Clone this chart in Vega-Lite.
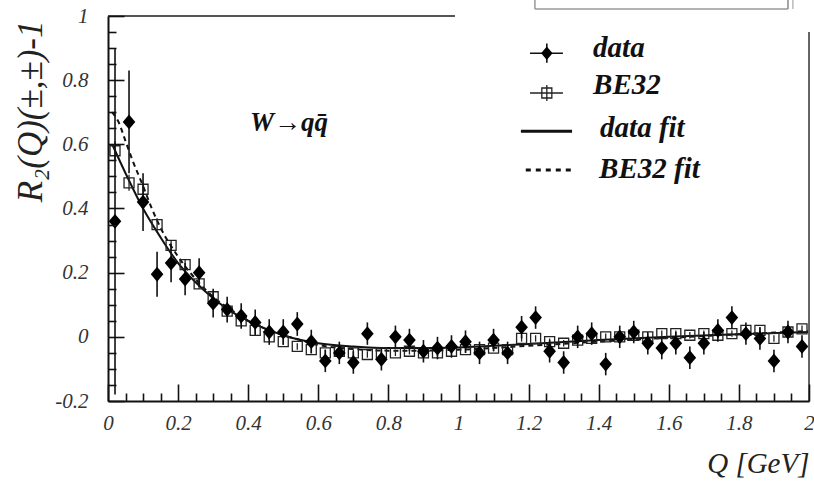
{
  "$schema": "https://vega.github.io/schema/vega-lite/v6.json",
  "width": 701,
  "height": 385,
  "autosize": "none",
  "padding": {"left": 108, "top": 16, "right": 5, "bottom": 82},
  "background": "white",
  "config": {
    "view": {"stroke": null},
    "axis": {
      "grid": false,
      "domainColor": "#111",
      "domainWidth": 2,
      "ticks": true,
      "tickColor": "#111",
      "tickWidth": 1.6,
      "labelFont": "Liberation Serif",
      "labelFontStyle": "italic",
      "labelFontSize": 21,
      "labelColor": "#333",
      "labelFlush": false,
      "labelOverlap": false,
      "titleFont": "Liberation Serif",
      "titleFontStyle": "italic",
      "titleFontWeight": "normal",
      "titleColor": "#222"
    },
    "text": {"font": "Liberation Serif", "fontStyle": "italic", "fontWeight": "bold", "color": "#111"}
  },
  "resolve": {"axis": {"x": "independent", "y": "independent"}},
  "datasets": {
    "data": [
      {"q": 0.02, "r": 0.36, "err": 0.54},
      {"q": 0.06, "r": 0.67, "err": 0.16},
      {"q": 0.10, "r": 0.42, "err": 0.09},
      {"q": 0.14, "r": 0.195, "err": 0.07},
      {"q": 0.18, "r": 0.23, "err": 0.06},
      {"q": 0.22, "r": 0.18, "err": 0.05},
      {"q": 0.26, "r": 0.20, "err": 0.045},
      {"q": 0.30, "r": 0.105, "err": 0.045},
      {"q": 0.34, "r": 0.085, "err": 0.04},
      {"q": 0.38, "r": 0.065, "err": 0.04},
      {"q": 0.42, "r": 0.045, "err": 0.04},
      {"q": 0.46, "r": 0.015, "err": 0.04},
      {"q": 0.50, "r": 0.015, "err": 0.04},
      {"q": 0.54, "r": 0.04, "err": 0.037},
      {"q": 0.58, "r": -0.015, "err": 0.037},
      {"q": 0.62, "r": -0.075, "err": 0.035},
      {"q": 0.66, "r": -0.05, "err": 0.035},
      {"q": 0.70, "r": -0.08, "err": 0.035},
      {"q": 0.74, "r": 0.01, "err": 0.035},
      {"q": 0.78, "r": -0.07, "err": 0.035},
      {"q": 0.82, "r": 0.0, "err": 0.035},
      {"q": 0.86, "r": -0.01, "err": 0.035},
      {"q": 0.90, "r": -0.045, "err": 0.035},
      {"q": 0.94, "r": -0.035, "err": 0.035},
      {"q": 0.98, "r": -0.03, "err": 0.035},
      {"q": 1.02, "r": -0.015, "err": 0.035},
      {"q": 1.06, "r": -0.05, "err": 0.035},
      {"q": 1.10, "r": -0.01, "err": 0.035},
      {"q": 1.14, "r": -0.05, "err": 0.035},
      {"q": 1.18, "r": 0.03, "err": 0.035},
      {"q": 1.22, "r": 0.06, "err": 0.035},
      {"q": 1.26, "r": -0.045, "err": 0.035},
      {"q": 1.30, "r": -0.08, "err": 0.035},
      {"q": 1.34, "r": 0.0, "err": 0.035},
      {"q": 1.38, "r": 0.01, "err": 0.035},
      {"q": 1.42, "r": -0.085, "err": 0.035},
      {"q": 1.46, "r": 0.0, "err": 0.035},
      {"q": 1.50, "r": 0.015, "err": 0.035},
      {"q": 1.54, "r": -0.02, "err": 0.035},
      {"q": 1.58, "r": -0.035, "err": 0.035},
      {"q": 1.62, "r": -0.02, "err": 0.035},
      {"q": 1.66, "r": -0.065, "err": 0.035},
      {"q": 1.70, "r": -0.02, "err": 0.035},
      {"q": 1.74, "r": 0.02, "err": 0.035},
      {"q": 1.78, "r": 0.06, "err": 0.035},
      {"q": 1.82, "r": 0.01, "err": 0.035},
      {"q": 1.86, "r": -0.005, "err": 0.035},
      {"q": 1.90, "r": -0.075, "err": 0.035},
      {"q": 1.94, "r": 0.015, "err": 0.035},
      {"q": 1.98, "r": -0.03, "err": 0.035}
    ],
    "be32": [
      {"q": 0.02, "r": 0.58, "err": 0.03},
      {"q": 0.06, "r": 0.48, "err": 0.025},
      {"q": 0.10, "r": 0.46, "err": 0.02},
      {"q": 0.14, "r": 0.35, "err": 0.02},
      {"q": 0.18, "r": 0.285, "err": 0.015},
      {"q": 0.22, "r": 0.225, "err": 0.015},
      {"q": 0.26, "r": 0.165, "err": 0.015},
      {"q": 0.30, "r": 0.125, "err": 0.012},
      {"q": 0.34, "r": 0.08, "err": 0.012},
      {"q": 0.38, "r": 0.05, "err": 0.01},
      {"q": 0.42, "r": 0.02, "err": 0.01},
      {"q": 0.46, "r": 0.0, "err": 0.01},
      {"q": 0.50, "r": -0.015, "err": 0.01},
      {"q": 0.54, "r": -0.03, "err": 0.01},
      {"q": 0.58, "r": -0.04, "err": 0.01},
      {"q": 0.62, "r": -0.05, "err": 0.01},
      {"q": 0.66, "r": -0.045, "err": 0.01},
      {"q": 0.70, "r": -0.05, "err": 0.01},
      {"q": 0.74, "r": -0.055, "err": 0.01},
      {"q": 0.78, "r": -0.05, "err": 0.01},
      {"q": 0.82, "r": -0.05, "err": 0.01},
      {"q": 0.86, "r": -0.045, "err": 0.01},
      {"q": 0.90, "r": -0.05, "err": 0.01},
      {"q": 0.94, "r": -0.05, "err": 0.01},
      {"q": 0.98, "r": -0.045, "err": 0.01},
      {"q": 1.02, "r": -0.04, "err": 0.01},
      {"q": 1.06, "r": -0.04, "err": 0.01},
      {"q": 1.10, "r": -0.035, "err": 0.01},
      {"q": 1.14, "r": -0.04, "err": 0.01},
      {"q": 1.18, "r": -0.005, "err": 0.01},
      {"q": 1.22, "r": -0.005, "err": 0.01},
      {"q": 1.26, "r": -0.015, "err": 0.01},
      {"q": 1.30, "r": -0.02, "err": 0.01},
      {"q": 1.34, "r": -0.01, "err": 0.01},
      {"q": 1.38, "r": -0.005, "err": 0.01},
      {"q": 1.42, "r": 0.0, "err": 0.01},
      {"q": 1.46, "r": 0.0, "err": 0.01},
      {"q": 1.50, "r": 0.005, "err": 0.01},
      {"q": 1.54, "r": 0.0, "err": 0.01},
      {"q": 1.58, "r": 0.01, "err": 0.01},
      {"q": 1.62, "r": 0.01, "err": 0.01},
      {"q": 1.66, "r": 0.005, "err": 0.01},
      {"q": 1.70, "r": 0.01, "err": 0.01},
      {"q": 1.74, "r": 0.005, "err": 0.01},
      {"q": 1.78, "r": 0.01, "err": 0.01},
      {"q": 1.82, "r": 0.02, "err": 0.01},
      {"q": 1.86, "r": 0.02, "err": 0.01},
      {"q": 1.90, "r": -0.005, "err": 0.01},
      {"q": 1.94, "r": 0.015, "err": 0.01},
      {"q": 1.98, "r": 0.025, "err": 0.01}
    ],
    "datafit": [
      {"q": 0.012, "r": 0.60},
      {"q": 0.05, "r": 0.51},
      {"q": 0.10, "r": 0.40},
      {"q": 0.15, "r": 0.31},
      {"q": 0.20, "r": 0.23},
      {"q": 0.25, "r": 0.17},
      {"q": 0.30, "r": 0.12},
      {"q": 0.35, "r": 0.08},
      {"q": 0.40, "r": 0.05},
      {"q": 0.45, "r": 0.025},
      {"q": 0.50, "r": 0.005},
      {"q": 0.55, "r": -0.01},
      {"q": 0.60, "r": -0.02},
      {"q": 0.70, "r": -0.03},
      {"q": 0.80, "r": -0.035},
      {"q": 0.90, "r": -0.035},
      {"q": 1.00, "r": -0.033},
      {"q": 1.20, "r": -0.022},
      {"q": 1.40, "r": -0.01},
      {"q": 1.60, "r": 0.0},
      {"q": 1.80, "r": 0.008},
      {"q": 2.00, "r": 0.015}
    ],
    "be32fit": [
      {"q": 0.012, "r": 0.70},
      {"q": 0.03, "r": 0.67},
      {"q": 0.05, "r": 0.61},
      {"q": 0.07, "r": 0.55},
      {"q": 0.10, "r": 0.47},
      {"q": 0.125, "r": 0.40},
      {"q": 0.15, "r": 0.34},
      {"q": 0.20, "r": 0.25},
      {"q": 0.25, "r": 0.18},
      {"q": 0.30, "r": 0.125},
      {"q": 0.35, "r": 0.085},
      {"q": 0.40, "r": 0.05},
      {"q": 0.45, "r": 0.025},
      {"q": 0.50, "r": 0.005},
      {"q": 0.55, "r": -0.01},
      {"q": 0.60, "r": -0.025},
      {"q": 0.70, "r": -0.038},
      {"q": 0.80, "r": -0.043},
      {"q": 0.90, "r": -0.043},
      {"q": 1.00, "r": -0.04},
      {"q": 1.20, "r": -0.028},
      {"q": 1.40, "r": -0.015},
      {"q": 1.60, "r": -0.003},
      {"q": 1.80, "r": 0.008},
      {"q": 2.00, "r": 0.018}
    ],
    "one": [{}]
  },
  "layer": [
    {
      "data": {"name": "datafit"},
      "mark": {"type": "line", "color": "#111", "strokeWidth": 2, "interpolate": "monotone"},
      "encoding": {
        "x": {
          "field": "q", "type": "quantitative",
          "scale": {"domain": [0, 2], "nice": false, "zero": false},
          "axis": {
            "orient": "bottom", "offset": -17, "zindex": 1,
            "domain": false,
            "title": "Q [GeV]",
            "titleFontSize": 29,
            "titleX": 701, "titleY": 88,
            "titleAlign": "right", "titleBaseline": "alphabetic",
            "values": [0, 0.2, 0.4, 0.6, 0.8, 1, 1.2, 1.4, 1.6, 1.8, 2],
            "ticks": true, "tickSize": 17, "tickColor": "#111",
            "labelExpr": "'' + round(datum.value*10)/10",
            "labelPadding": 11,
            "labelBaseline": "top"
          }
        },
        "y": {
          "field": "r", "type": "quantitative",
          "scale": {"domain": [-0.2, 1], "nice": false, "zero": false},
          "axis": {
            "orient": "left", "offset": -16, "zindex": 1,
            "domain": false,
            "title": "R₂(Q)(±,±)-1",
            "titleFontSize": 35,
            "titleAngle": -90,
            "titleX": -83, "titleY": 4,
            "titleAlign": "right", "titleBaseline": "alphabetic",
            "values": [-0.2, 0, 0.2, 0.4, 0.6, 0.8, 1],
            "ticks": true, "tickSize": 16, "tickColor": "#111",
            "labelExpr": "'' + round(datum.value*10)/10",
            "labelPadding": 20
          }
        }
      }
    },
    {
      "data": {"name": "be32fit"},
      "mark": {"type": "line", "color": "#111", "strokeWidth": 2, "strokeDash": [5, 4], "interpolate": "monotone"},
      "encoding": {
        "x": {
          "field": "q", "type": "quantitative",
          "axis": {
            "orient": "top", "offset": -385, "zindex": 1, "title": null, "labels": false, "domain": true,
            "values": [0.05,0.1,0.15,0.25,0.3,0.35,0.45,0.5,0.55,0.65,0.7,0.75,0.85,0.9,0.95,1.05,1.1,1.15,1.25,1.3,1.35,1.45,1.5,1.55,1.65,1.7,1.75,1.85,1.9,1.95],
            "ticks": true, "tickSize": 8, "tickColor": "#111"
          }
        },
        "y": {
          "field": "r", "type": "quantitative",
          "axis": {
            "orient": "right", "offset": -701, "zindex": 1, "title": null, "labels": false, "domain": true,
            "values": [-0.15,-0.1,-0.05,0.05,0.1,0.15,0.25,0.3,0.35,0.45,0.5,0.55,0.65,0.7,0.75,0.85,0.9,0.95],
            "ticks": true, "tickSize": 8, "tickColor": "#111"
          }
        }
      }
    },
    {
      "data": {"name": "be32"},
      "mark": {"type": "errorbar", "color": "#222", "thickness": 1.3},
      "encoding": {
        "x": {"field": "q", "type": "quantitative", "axis": null},
        "y": {"field": "r", "type": "quantitative", "axis": null},
        "yError": {"field": "err"}
      }
    },
    {
      "data": {"name": "be32"},
      "mark": {"type": "point", "shape": "square", "size": 100, "filled": false, "stroke": "#222", "strokeWidth": 1.3, "opacity": 1},
      "encoding": {
        "x": {"field": "q", "type": "quantitative", "axis": null},
        "y": {"field": "r", "type": "quantitative", "axis": null}
      }
    },
    {
      "data": {"name": "data"},
      "mark": {"type": "errorbar", "color": "#111", "thickness": 1.6},
      "encoding": {
        "x": {"field": "q", "type": "quantitative", "axis": null},
        "y": {"field": "r", "type": "quantitative", "axis": null},
        "yError": {"field": "err"}
      }
    },
    {
      "data": {"name": "data"},
      "mark": {"type": "point", "shape": "M0,-1L0.85,0L0,1L-0.85,0Z", "size": 220, "filled": true, "color": "#000", "opacity": 1},
      "encoding": {
        "x": {"field": "q", "type": "quantitative", "axis": null},
        "y": {"field": "r", "type": "quantitative", "axis": null}
      }
    },
    {
      "data": {"name": "one"},
      "mark": {"type": "rule", "color": "#555", "strokeWidth": 2},
      "encoding": {"x": {"datum": 0, "axis": null}, "x2": {"datum": 0.99}, "y": {"datum": 1, "axis": null}}
    },
    {
      "data": {"name": "one"},
      "mark": {"type": "rule", "color": "#666", "strokeWidth": 2},
      "encoding": {"x": {"datum": 2, "axis": null}, "y": {"datum": -0.2, "axis": null}, "y2": {"datum": 0.95}}
    },
    {
      "data": {"name": "one"},
      "mark": {"type": "rule", "color": "#999", "strokeWidth": 1.5},
      "encoding": {"x": {"datum": 1.218, "axis": null}, "x2": {"datum": 1.94}, "y": {"datum": 1.022, "axis": null}}
    },
    {
      "data": {"name": "one"},
      "mark": {"type": "rule", "color": "#999", "strokeWidth": 1.5},
      "encoding": {"x": {"datum": 1.218, "axis": null}, "y": {"datum": 1.022, "axis": null}, "y2": {"datum": 1.1}}
    },
    {
      "data": {"name": "one"},
      "mark": {"type": "rule", "color": "#888", "strokeWidth": 1.5},
      "encoding": {"x": {"datum": 1.94, "axis": null}, "y": {"datum": 1.022, "axis": null}, "y2": {"datum": 1.1}}
    },
    {
      "data": {"name": "one"},
      "mark": {"type": "rule", "color": "#aaa", "strokeWidth": 1.2},
      "encoding": {"x": {"datum": 1.954, "axis": null}, "y": {"datum": 1.022, "axis": null}, "y2": {"datum": 1.1}}
    },
    {
      "data": {"name": "one"},
      "mark": {"type": "rule", "color": "#111", "strokeWidth": 1.6},
      "encoding": {"x": {"datum": 1.204, "axis": null}, "x2": {"datum": 1.298}, "y": {"datum": 0.884, "axis": null}}
    },
    {
      "data": {"name": "one"},
      "mark": {"type": "rule", "color": "#111", "strokeWidth": 1.6},
      "encoding": {"x": {"datum": 1.252, "axis": null}, "y": {"datum": 0.854, "axis": null}, "y2": {"datum": 0.914}}
    },
    {
      "data": {"name": "one"},
      "mark": {"type": "point", "shape": "M0,-1L0.85,0L0,1L-0.85,0Z", "size": 180, "filled": true, "color": "#000", "opacity": 1},
      "encoding": {"x": {"datum": 1.252, "axis": null}, "y": {"datum": 0.884, "axis": null}}
    },
    {
      "data": {"name": "one"},
      "mark": {"type": "rule", "color": "#222", "strokeWidth": 1.3},
      "encoding": {"x": {"datum": 1.204, "axis": null}, "x2": {"datum": 1.298}, "y": {"datum": 0.76, "axis": null}}
    },
    {
      "data": {"name": "one"},
      "mark": {"type": "rule", "color": "#222", "strokeWidth": 1.3},
      "encoding": {"x": {"datum": 1.252, "axis": null}, "y": {"datum": 0.735, "axis": null}, "y2": {"datum": 0.785}}
    },
    {
      "data": {"name": "one"},
      "mark": {"type": "point", "shape": "square", "size": 100, "filled": false, "stroke": "#222", "strokeWidth": 1.3, "opacity": 1},
      "encoding": {"x": {"datum": 1.252, "axis": null}, "y": {"datum": 0.76, "axis": null}}
    },
    {
      "data": {"name": "one"},
      "mark": {"type": "rule", "color": "#111", "strokeWidth": 3},
      "encoding": {"x": {"datum": 1.178, "axis": null}, "x2": {"datum": 1.324}, "y": {"datum": 0.641, "axis": null}}
    },
    {
      "data": {"name": "one"},
      "mark": {"type": "rule", "color": "#111", "strokeWidth": 3, "strokeDash": [5, 5]},
      "encoding": {"x": {"datum": 1.192, "axis": null}, "x2": {"datum": 1.324}, "y": {"datum": 0.52, "axis": null}}
    },
    {
      "data": {"name": "one"},
      "mark": {"type": "text", "fontSize": 29, "align": "left", "baseline": "alphabetic", "text": "data"},
      "encoding": {"x": {"datum": 1.384, "axis": null}, "y": {"datum": 0.872, "axis": null}}
    },
    {
      "data": {"name": "one"},
      "mark": {"type": "text", "fontSize": 29, "align": "left", "baseline": "alphabetic", "text": "BE32"},
      "encoding": {"x": {"datum": 1.384, "axis": null}, "y": {"datum": 0.757, "axis": null}}
    },
    {
      "data": {"name": "one"},
      "mark": {"type": "text", "fontSize": 29, "align": "left", "baseline": "alphabetic", "text": "data fit"},
      "encoding": {"x": {"datum": 1.404, "axis": null}, "y": {"datum": 0.623, "axis": null}}
    },
    {
      "data": {"name": "one"},
      "mark": {"type": "text", "fontSize": 29, "align": "left", "baseline": "alphabetic", "text": "BE32 fit"},
      "encoding": {"x": {"datum": 1.401, "axis": null}, "y": {"datum": 0.494, "axis": null}}
    },
    {
      "data": {"name": "one"},
      "mark": {"type": "text", "fontSize": 27, "align": "left", "baseline": "alphabetic", "text": "W→qq̄"},
      "encoding": {"x": {"datum": 0.405, "axis": null}, "y": {"datum": 0.642, "axis": null}}
    }
  ]
}
